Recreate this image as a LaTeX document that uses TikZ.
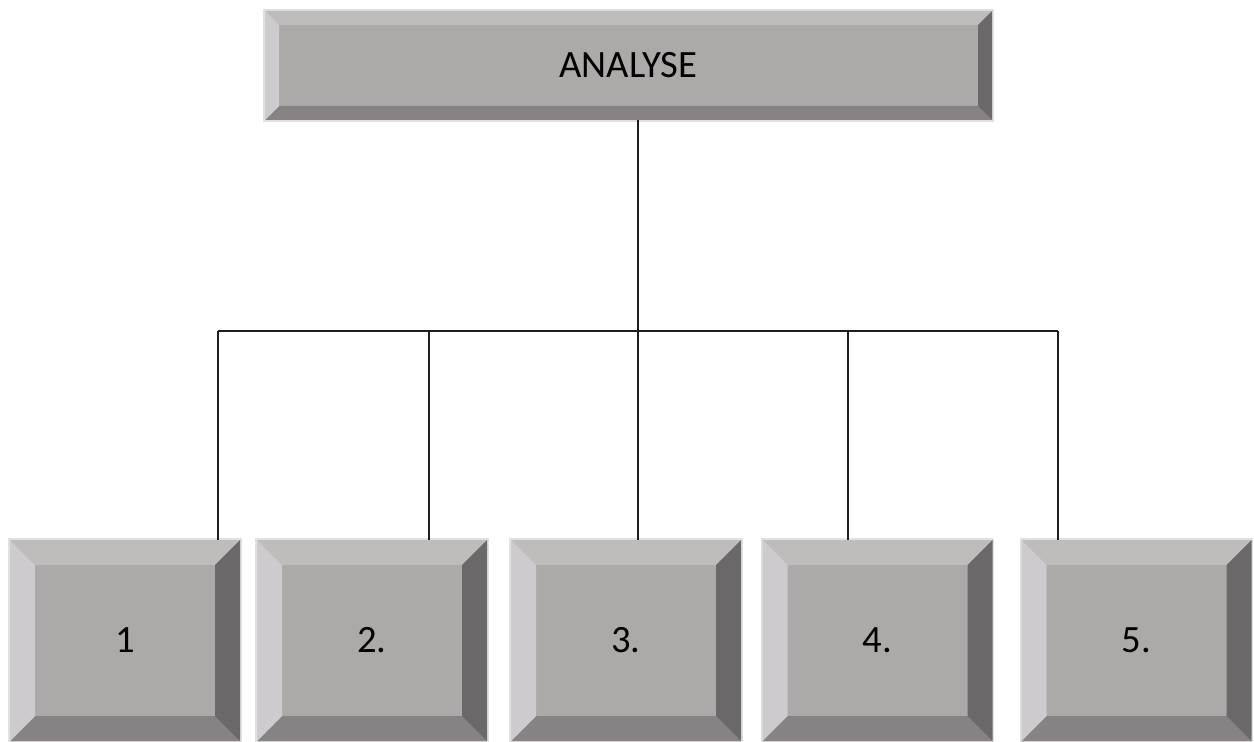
\documentclass[tikz,border=0pt]{standalone}
\usepackage{fontspec}
\setmainfont{Carlito}
\usetikzlibrary{calc}

\definecolor{capface}{RGB}{173,169,168}
\definecolor{captop}{RGB}{192,188,188}
\definecolor{capleft}{RGB}{205,203,205}
\definecolor{capright}{RGB}{106,104,105}
\definecolor{capbottom}{RGB}{135,131,132}
\definecolor{capshade}{RGB}{226,225,225}
\definecolor{linkcol}{RGB}{30,30,30}

\tikzset{
  keycap/.style={rectangle, fill=capface, inner sep=0pt, outer sep=0pt, text=black, font=\fontsize{29}{34}\selectfont},
  link/.style={draw=linkcol, line width=1.5pt}
}

% bevelled edges round a named node: #1 node, #2 bevel width
\newcommand{\bevel}[2]{%
  \draw[capshade, line width=2.5pt] (#1.north west) rectangle (#1.south east);
  \fill[captop] (#1.north west) -- (#1.north east) -- ($(#1.north east)+(-#2,#2)$) -- ($(#1.north west)+(#2,#2)$) -- cycle;
  \fill[capbottom] (#1.south west) -- (#1.south east) -- ($(#1.south east)+(-#2,-#2)$) -- ($(#1.south west)+(#2,-#2)$) -- cycle;
  \fill[capleft] (#1.north west) -- ($(#1.north west)+(#2,#2)$) -- ($(#1.south west)+(#2,-#2)$) -- (#1.south west) -- cycle;
  \fill[capright] (#1.north east) -- ($(#1.north east)+(-#2,#2)$) -- ($(#1.south east)+(-#2,-#2)$) -- (#1.south east) -- cycle;
}

\begin{document}
\begin{tikzpicture}[x=0.75pt,y=0.75pt,yscale=-1,xscale=1]
\useasboundingbox (0,0) rectangle (1254,742);

%Shape: top box
\node[keycap, minimum width=545.25pt, minimum height=81.75pt] (top) at (628.5,65.5) {ANALYSE};
\bevel{top}{14}

%Shape: bottom boxes
\foreach \n/\x/\t in {b1/125/1, b2/372/2., b3/626/3., b4/877.5/4., b5/1136.5/5.}{
  \node[keycap, minimum width=172.5pt, minimum height=150.75pt] (\n) at (\x,640.5) {\t};
  \bevel{\n}{25}
}

%Straight Lines: tree
\coordinate (bus) at (638,331);
\foreach \i/\x in {1/218, 2/429, 3/638, 4/848, 5/1058}
  \coordinate (bus\i) at (\x,331);
\draw[link] (top.south -| bus) -- (bus);
\draw[link] (bus1) -- (bus5);
\foreach \i in {1,...,5}
  \draw[link] (bus\i) -- (bus\i |- b\i.north);

\end{tikzpicture}
\end{document}
